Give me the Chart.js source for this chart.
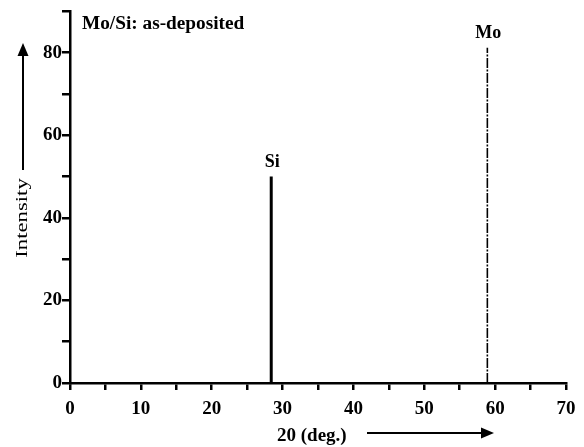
<!DOCTYPE html>
<html>
<head>
<meta charset="utf-8">
<script src="https://cdn.jsdelivr.net/npm/chart.js@4"></script>
<style>
    html, body { margin: 0; padding: 0; background: #fff; }
    #wrap { width: 584px; height: 447px; }
</style>
</head>
<body>
<div id="wrap"><canvas id="xrdChart" width="584" height="447"></canvas></div>
<script>
// peak data
const peakNames = ['Si', 'Mo'];
const peakPositions = [28.4, 58.9];
const peakHeights = [50, 81.2];
const xTicks = [0, 10, 20, 30, 40, 50, 60, 70];
const yTicks = [0, 20, 40, 60, 80];

const serif = '"Liberation Serif", "Times New Roman", serif';

function peakData(i) {
    return [{x: peakPositions[i], y: 0}, {x: peakPositions[i], y: peakHeights[i]}];
}

function arrowHead(ctx, tipX, tipY, dx, dy) {
    // dx,dy: unit direction the arrow points to
    const len = 13, half = 5.5;
    const bx = tipX - dx * len, by = tipY - dy * len;
    ctx.beginPath();
    ctx.moveTo(tipX, tipY);
    ctx.lineTo(bx - dy * half, by + dx * half);
    ctx.lineTo(bx + dy * half, by - dx * half);
    ctx.closePath();
    ctx.fill();
}

// labels above peaks, arrows, axis titles
const decorations = {
    id: 'decorations',
    afterDraw(chart) {
        const ctx = chart.ctx;
        const xs = chart.scales.x;
        const ys = chart.scales.y;
        const area = chart.chartArea;
        ctx.save();
        ctx.fillStyle = '#000';
        ctx.strokeStyle = '#000';

        // peak names
        ctx.font = 'bold 18px ' + serif;
        ctx.textAlign = 'center';
        ctx.textBaseline = 'alphabetic';
        peakNames.forEach((name, i) => {
            ctx.fillText(name, xs.getPixelForValue(peakPositions[i]) + 1, ys.getPixelForValue(peakHeights[i]) - 9.5);
        });

        // sample title
        ctx.font = 'bold 19.3px ' + serif;
        ctx.textAlign = 'left';
        ctx.fillText('Mo/Si: as-deposited', area.left + 12, area.top + 18);

        // x title + arrow
        ctx.font = 'bold 19px ' + serif;
        ctx.fillText('20 (deg.)', 277, 441);
        ctx.lineWidth = 2;
        ctx.beginPath();
        ctx.moveTo(367, 433);
        ctx.lineTo(482, 433);
        ctx.stroke();
        arrowHead(ctx, 494, 433, 1, 0);

        // y title + arrow
        ctx.save();
        ctx.translate(27, 218);
        ctx.rotate(-Math.PI / 2);
        ctx.scale(1.42, 1);
        ctx.font = '16px ' + serif;
        ctx.textAlign = 'center';
        ctx.textBaseline = 'alphabetic';
        ctx.fillText('Intensity', 0, 0);
        ctx.restore();
        ctx.beginPath();
        ctx.moveTo(23, 170);
        ctx.lineTo(23, 52);
        ctx.stroke();
        arrowHead(ctx, 23, 43, 0, -1);
        ctx.restore();
    }
};

new Chart(document.getElementById('xrdChart'), {
    type: 'scatter',
    data: {
        datasets: [{
            label: peakNames[0],
            data: peakData(0),
            showLine: true,
            borderColor: '#000',
            borderWidth: 3,
            pointRadius: 0
        }, {
            label: peakNames[1],
            data: peakData(1),
            showLine: true,
            borderColor: '#000',
            borderWidth: 1.6,
            borderDash: [10, 1.5, 2, 1.5],
            pointRadius: 0
        }]
    },
    options: {
        responsive: false,
        animation: false,
        layout: { padding: { left: 0, top: 10, right: 18, bottom: 0 } },
        plugins: {
            legend: { display: false },
            tooltip: { enabled: false }
        },
        scales: {
            x: {
                type: 'linear',
                min: 0,
                max: 70,
                afterFit: function(scale) { scale.height = 64; },
                afterBuildTicks: function(scale) {
                    const t = [];
                    for (let v = 0; v <= 70; v += 5) t.push({value: v});
                    scale.ticks = t;
                },
                border: { display: true, color: '#000', width: 2.5 },
                grid: { drawOnChartArea: false, drawTicks: true, tickLength: 7, color: '#000', lineWidth: 2.5 },
                ticks: {
                    color: '#000',
                    padding: 8,
                    maxRotation: 0,
                    autoSkip: false,
                    font: { family: serif, size: 19, weight: 'bold' },
                    callback: v => xTicks.includes(v) ? String(v) : ''
                }
            },
            y: {
                min: 0,
                max: 90,
                afterFit: function(scale) { scale.width = 70; },
                afterBuildTicks: function(scale) {
                    const t = [];
                    for (let v = 0; v <= 90; v += 10) t.push({value: v});
                    scale.ticks = t;
                },
                border: { display: true, color: '#000', width: 2.5 },
                grid: { drawOnChartArea: false, drawTicks: true, tickLength: 8, color: '#000', lineWidth: 2.5 },
                ticks: {
                    color: '#000',
                    padding: 0,
                    autoSkip: false,
                    font: { family: serif, size: 19, weight: 'bold' },
                    callback: v => yTicks.includes(v) ? String(v) : ''
                }
            }
        }
    },
    plugins: [decorations]
});
</script>
</body>
</html>
